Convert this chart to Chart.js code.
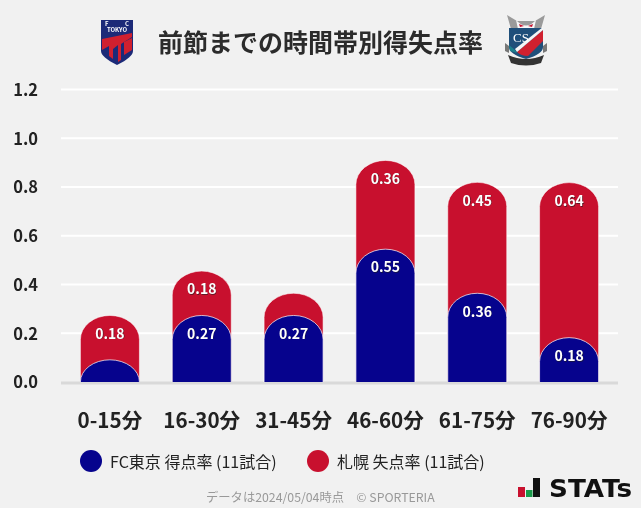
<!DOCTYPE html>
<html lang="ja">
<head>
<meta charset="utf-8">
<title>前節までの時間帯別得失点率</title>
<script src="https://cdn.jsdelivr.net/npm/chart.js@4"></script>
<style>
body { margin: 0; width: 641px; height: 508px; position: relative; overflow: hidden; background: #f1f1f1; font-family: "Noto Sans CJK JP", "Noto Sans", sans-serif; color: #222; }
canvas { position: absolute; left: 0; top: 0; }
.txt { position: absolute; white-space: nowrap; line-height: 1; }
.dot { position: absolute; width: 22px; height: 22px; border-radius: 50%; }
svg { position: absolute; }
</style>
</head>
<body>
<canvas id="myChart" width="641" height="508"></canvas>

<div class="txt" style="left:158px;top:29px;font-size:25px;font-weight:700;color:#2b2b2b">前節までの時間帯別得失点率</div>

<!-- FC東京 crest -->
<svg style="left:100px;top:19px" width="34" height="47" viewBox="0 0 34 47">
  <path d="M1 1H33V32Q33 38 17 46Q1 38 1 32Z" fill="#1c2a78"/>
  <path d="M2 20L32 14V18L21 25V41L18 43V26L13 30V40L9 37V27L2 31Z" fill="#d0202f"/>
  <path d="M24 23L32 19V31L24 36Z" fill="#d0202f"/>
  <text x="5" y="7" font-size="6" font-weight="700" fill="#fff">F</text>
  <text x="25" y="7" font-size="6" font-weight="700" fill="#fff">C</text>
  <text x="17" y="13" font-size="6" font-weight="700" fill="#fff" text-anchor="middle">TOKYO</text>
</svg>

<!-- 札幌 crest -->
<svg style="left:504px;top:15px" width="44" height="52" viewBox="0 0 44 52">
  <path d="M3 0L13 6H31L41 0L37 14H7Z" fill="#9a9a9a"/>
  <path d="M12 5Q22 16 32 5L30 14H14Z" fill="#f7f7f7"/>
  <path d="M15 9L20 11L16 12ZM29 9L24 11L28 12Z" fill="#c8102e"/>
  <path d="M5 13H39V32Q39 39 22 44Q5 39 5 32Z" fill="#1f4f7a"/>
  <path d="M13 37L39 15V26L24 41Q17 41 13 37Z" fill="#d0202f"/>
  <path d="M11 34L39 12V15L13 37Z" fill="#f5f5f5"/>
  <path d="M5 30L11 35L13 38L6 36Z" fill="#1b7f8c"/>
  <path d="M1 28L5 31V38L1 36ZM43 28L39 31V38L43 36Z" fill="#777"/>
  <path d="M4 40Q22 48 40 40L37 48Q22 53 7 48Z" fill="#333"/>
  <text x="9" y="27" font-size="13" font-family="Liberation Serif" fill="#fff">CS</text>
</svg>

<!-- 凡例 -->
<div class="dot" style="left:80px;top:450px;background:#06038d"></div>
<div class="txt" style="left:110px;top:453px;font-size:16px">FC東京 得点率 (11試合)</div>
<div class="dot" style="left:307px;top:450px;background:#c8102e"></div>
<div class="txt" style="left:337px;top:453px;font-size:16px">札幌 失点率 (11試合)</div>

<div class="txt" style="left:206px;top:491px;font-size:12.3px;color:#999">データは2024/05/04時点　© SPORTERIA</div>

<!-- STATs -->
<svg style="left:516px;top:475px" width="120" height="26" viewBox="0 0 120 26">
  <rect x="2" y="12" width="7" height="10" fill="#c8102e"/>
  <rect x="10" y="15" width="6.5" height="7" fill="#1a9a4a"/>
  <rect x="17" y="3" width="7" height="19" fill="#111"/>
  <text x="33" y="22" font-size="24.5" font-weight="900" font-family="DejaVu Sans" fill="#111" textLength="83" lengthAdjust="spacingAndGlyphs">STATs</text>
</svg>

<script>
var categories = ['0-15分', '16-30分', '31-45分', '46-60分', '61-75分', '76-90分'];
var tokyoScored = [0.091, 0.273, 0.273, 0.545, 0.364, 0.182]; //FC東京 得点率, bar heights show a bit more than the 2 decimals printed
var sapporoLost = [0.182, 0.182, 0.091, 0.364, 0.455, 0.636]; //札幌 失点率
var tokyoLabels = ['', '0.27', '0.27', '0.55', '0.36', '0.18']; //first bar has no label in the picture
var sapporoLabels = ['0.18', '0.18', '', '0.36', '0.45', '0.64']; //third bar has none either
var yTicks = [0, 0.2, 0.4, 0.6, 0.8, 1.0, 1.2];

//red bar sits behind the blue one, so it runs from 0 up to the sum of both
var stackTops = tokyoScored.map(function(v, i) {
    return v + sapporoLost[i];
});

//bars in the original have an elliptical top, chart.js only does circular corners
Chart.BarElement.prototype.draw = function(ctx) {
    var p = this.getProps(['x', 'y', 'base', 'width']);
    var rx = p.width / 2;
    var ry = Math.min(24, p.base - p.y);
    ctx.save();
    ctx.beginPath();
    ctx.moveTo(p.x - rx, p.base);
    ctx.lineTo(p.x - rx, p.y + ry);
    ctx.ellipse(p.x, p.y + ry, rx, ry, 0, Math.PI, 2 * Math.PI);
    ctx.lineTo(p.x + rx, p.base);
    ctx.fillStyle = this.options.backgroundColor;
    ctx.fill();
    ctx.strokeStyle = this.options.borderColor;
    ctx.lineWidth = this.options.borderWidth;
    ctx.stroke();
    ctx.restore();
};

//grid lines stick out a little past the plot on both sides
var gridPlugin = {
    id: 'gridPlugin',
    beforeDatasetsDraw: function(chart) {
        var ctx = chart.ctx;
        var y = chart.scales.y;
        ctx.save();
        yTicks.forEach(function(t) {
            var py = y.getPixelForValue(t);
            ctx.beginPath();
            ctx.moveTo(chart.chartArea.left - 3, t === 0 ? py + 1 : py);
            ctx.lineTo(chart.chartArea.right + 3, t === 0 ? py + 1 : py);
            ctx.lineWidth = t === 0 ? 3 : 2;
            ctx.strokeStyle = t === 0 ? '#d9d9d9' : '#ffffff';
            ctx.stroke();
        });
        ctx.restore();
    }
};

//value labels just under the top of each bar
var labelPlugin = {
    id: 'labelPlugin',
    afterDatasetsDraw: function(chart) {
        var ctx = chart.ctx;
        ctx.save();
        ctx.font = '700 14px "Noto Sans CJK JP"';
        ctx.textAlign = 'center';
        ctx.textBaseline = 'middle';
        [sapporoLabels, tokyoLabels].forEach(function(labels, d) {
            var bars = chart.getDatasetMeta(d).data;
            labels.forEach(function(text, i) {
                if (text === '') return;
                ctx.fillStyle = 'rgba(30,30,30,0.6)';
                ctx.fillText(text, bars[i].x + 0.7, bars[i].y + 18.7);
                ctx.fillStyle = '#fff';
                ctx.fillText(text, bars[i].x, bars[i].y + 18);
            });
        });
        ctx.restore();
    }
};

var ctx = document.getElementById('myChart').getContext('2d');
var myChart = new Chart(ctx, {
    type: 'bar',
    data: {
        labels: categories,
        datasets: [{
            label: '札幌 失点率 (11試合)',
            data: stackTops,
            backgroundColor: '#c8102e',
            borderColor: 'rgba(255,255,255,0.55)',
            borderWidth: 1,
            order: 2
        }, {
            label: 'FC東京 得点率 (11試合)',
            data: tokyoScored,
            backgroundColor: '#06038d',
            borderColor: 'rgba(255,255,255,0.7)',
            borderWidth: 1,
            order: 1
        }]
    },
    options: {
        responsive: false,
        animation: false,
        maintainAspectRatio: false,
        layout: { padding: { left: 0, right: 26, top: 89.5, bottom: 0 } },
        datasets: { bar: { grouped: false, barThickness: 59 } },
        plugins: {
            legend: { display: false },
            tooltip: { enabled: false }
        },
        scales: {
            x: {
                grid: { display: false },
                border: { display: false },
                afterFit: function(scale) { scale.height = 126; },
                ticks: {
                    color: '#222',
                    padding: 18,
                    maxRotation: 0,
                    autoSkip: false,
                    font: { family: '"Noto Sans CJK JP"', size: 20.6, weight: '700' }
                }
            },
            y: {
                min: 0,
                max: 1.2,
                afterFit: function(scale) { scale.width = 64; },
                afterBuildTicks: function(scale) {
                    scale.ticks = yTicks.map(function(v) { return { value: v }; });
                },
                grid: { display: false },
                border: { display: false },
                ticks: {
                    color: '#222',
                    padding: 18,
                    callback: function(v) { return v.toFixed(1); },
                    font: { family: '"Noto Sans CJK JP"', size: 16.5, weight: '700' }
                }
            }
        }
    },
    plugins: [gridPlugin, labelPlugin]
});
</script>
</body>
</html>
